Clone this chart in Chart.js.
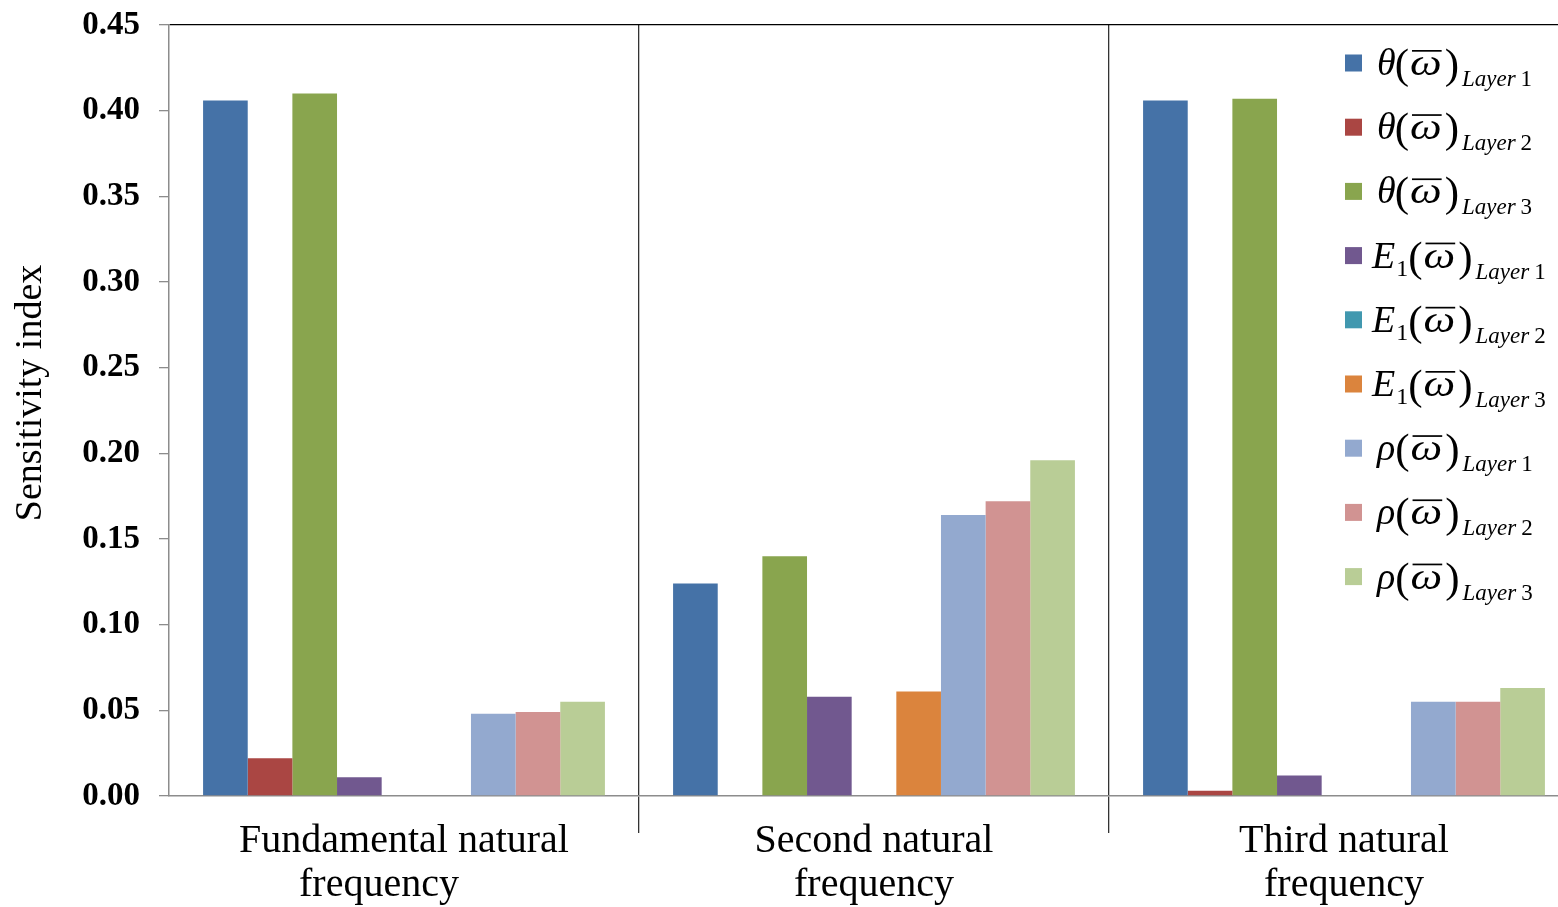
<!DOCTYPE html>
<html>
<head>
<meta charset="utf-8">
<script src="https://cdn.jsdelivr.net/npm/chart.js@4.4.1/dist/chart.umd.min.js"></script>
<style>
  html, body { margin: 0; padding: 0; background: #fff; }
  #wrap { width: 1558px; height: 907px; overflow: hidden; position: relative; }
  canvas { display: block; }
</style>
</head>
<body>
<div id="wrap"><canvas id="c" width="1600" height="907"></canvas></div>
<script>
// Categories (natural frequencies)
const categories = [
  ['Fundamental natural', 'frequency\u00a0\u00a0\u00a0\u00a0\u00a0'],
  ['Second natural', 'frequency'],
  ['Third natural', 'frequency']
];

// Sensitivity indices per parameter and layer
const thetaLayer1 = [0.406, 0.124, 0.406];
const thetaLayer2 = [0.022, 0.000, 0.003];
const thetaLayer3 = [0.410, 0.140, 0.407];
const e1Layer1    = [0.011, 0.058, 0.012];
const e1Layer2    = [0.000, 0.000, 0.000];
const e1Layer3    = [0.000, 0.061, 0.000];
const rhoLayer1   = [0.048, 0.164, 0.055];
const rhoLayer2   = [0.049, 0.172, 0.055];
const rhoLayer3   = [0.055, 0.196, 0.063];

const yTicks = [0, 0.05, 0.10, 0.15, 0.20, 0.25, 0.30, 0.35, 0.40, 0.45];

// Series descriptions: symbol, optional symbol subscript, layer number
const seriesInfo = [
  { sym: 'θ', sub: null, layer: '1', data: thetaLayer1, color: '#4572A7' },
  { sym: 'θ', sub: null, layer: '2', data: thetaLayer2, color: '#AA4643' },
  { sym: 'θ', sub: null, layer: '3', data: thetaLayer3, color: '#89A54E' },
  { sym: 'E', sub: '1',  layer: '1', data: e1Layer1,    color: '#71588F' },
  { sym: 'E', sub: '1',  layer: '2', data: e1Layer2,    color: '#4198AF' },
  { sym: 'E', sub: '1',  layer: '3', data: e1Layer3,    color: '#DB843D' },
  { sym: 'ρ', sub: null, layer: '1', data: rhoLayer1,   color: '#93A9CF' },
  { sym: 'ρ', sub: null, layer: '2', data: rhoLayer2,   color: '#D19392' },
  { sym: 'ρ', sub: null, layer: '3', data: rhoLayer3,   color: '#B9CD96' }
];

const SERIF = '"Liberation Serif", "Times New Roman", serif';

// Legend with math-style labels drawn on the canvas
const mathLegend = {
  id: 'mathLegend',
  afterDraw(chart) {
    const ctx = chart.ctx;
    ctx.save();
    ctx.textBaseline = 'alphabetic';
    ctx.textAlign = 'left';
    const startY = 63, step = 64.2;
    seriesInfo.forEach((s, i) => {
      const cy = startY + i * step;
      ctx.fillStyle = s.color;
      ctx.fillRect(1345, cy - 8.5, 17, 17);
      ctx.fillStyle = '#000';
      const base = cy + 12;
      let x = s.sym === 'E' ? 1372 : 1377;

      // symbol
      ctx.font = 'italic 38px ' + SERIF;
      ctx.fillText(s.sym, x, base);
      x += ctx.measureText(s.sym).width + (s.sym === 'θ' ? -1 : 0);
      if (s.sub) {
        ctx.font = '24px ' + SERIF;
        ctx.fillText(s.sub, x + 1, base + 8);
        x += ctx.measureText(s.sub).width + 1;
      }

      // (ω̄)
      ctx.font = '43px ' + SERIF;
      ctx.fillText('(', x, base + 3);
      x += ctx.measureText('(').width;
      ctx.font = 'italic 38px ' + SERIF;
      const w = ctx.measureText('ω').width;
      const sx = 1.18;
      ctx.save();
      ctx.translate(x + 1, base);
      ctx.scale(sx, 1);
      ctx.fillText('ω', 0, 0);
      ctx.restore();
      ctx.fillRect(x + 3, base - 25, w * sx - 2, 1.7);
      x += w * sx + 4;
      ctx.font = '43px ' + SERIF;
      ctx.fillText(')', x, base + 3);
      x += ctx.measureText(')').width + 3;

      // subscript
      ctx.font = 'italic 23px ' + SERIF;
      ctx.fillText('Layer', x, base + 11);
      x += ctx.measureText('Layer').width + 5;
      ctx.font = '23px ' + SERIF;
      ctx.fillText(s.layer, x, base + 11);
    });

    // Vertical axis title
    ctx.translate(31, 393);
    ctx.rotate(-Math.PI / 2);
    ctx.textAlign = 'center';
    ctx.textBaseline = 'middle';
    ctx.font = '38px ' + SERIF;
    ctx.fillStyle = '#000';
    ctx.fillText('Sensitivity index', 0, 0);
    ctx.restore();
  }
};

new Chart(document.getElementById('c'), {
  type: 'bar',
  data: {
    labels: categories,
    datasets: seriesInfo.map(s => ({
      label: s.sym + (s.sub || '') + '(ω̄) Layer ' + s.layer,
      data: s.data,
      backgroundColor: s.color,
      borderWidth: 0,
      categoryPercentage: 0.855,
      barPercentage: 1.0
    }))
  },
  options: {
    responsive: false,
    animation: false,
    layout: { padding: { top: 25, right: 21, left: 0, bottom: 0 } },
    plugins: {
      legend: { display: false },
      tooltip: { enabled: false }
    },
    scales: {
      x: {
        grid: {
          offset: true,
          drawOnChartArea: true,
          drawTicks: true,
          tickLength: 37,
          lineWidth: 1.3,
          color: c => (c.index === 0 ? 'rgba(0,0,0,0)' : '#333'),
          tickColor: c => (c.index === 0 ? 'rgba(0,0,0,0)' : '#333')
        },
        border: { color: '#8c8c8c', width: 1.5 },
        ticks: {
          color: '#000',
          font: { family: SERIF, size: 40, lineHeight: 1.1 },
          padding: -14,
          maxRotation: 0,
          autoSkip: false
        },
        afterFit(scale) { scale.height = 111; }
      },
      y: {
        min: 0,
        max: 0.45,
        afterBuildTicks(scale) { scale.ticks = yTicks.map(v => ({ value: v })); },
        grid: {
          drawOnChartArea: true,
          drawTicks: true,
          tickLength: 10,
          lineWidth: 1.3,
          color: c => (c.tick && Math.abs(c.tick.value - 0.45) < 1e-6 ? '#000' : 'rgba(0,0,0,0)'),
          tickColor: '#8c8c8c'
        },
        border: { color: '#8c8c8c', width: 1.5 },
        ticks: {
          color: '#000',
          font: { family: SERIF, size: 33, weight: 'bold' },
          padding: 19,
          callback: v => Number(v).toFixed(2)
        },
        afterFit(scale) {
          scale.width = 169;
          scale.paddingTop = 0;
          scale.paddingBottom = 0;
        }
      }
    }
  },
  plugins: [mathLegend]
});
</script>
</body>
</html>
